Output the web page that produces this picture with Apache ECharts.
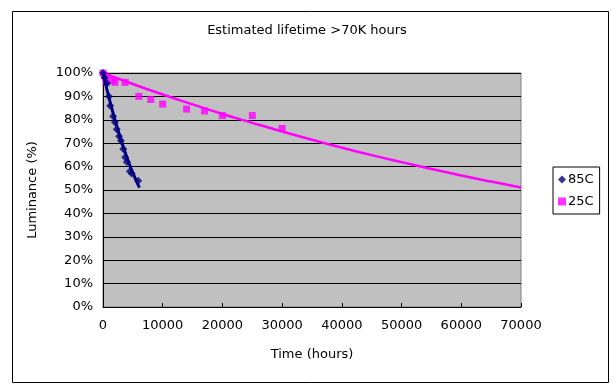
<!DOCTYPE html>
<html>
<head>
<meta charset="utf-8">
<script src="https://cdn.jsdelivr.net/npm/echarts@6/dist/echarts.min.js"></script>
<style>html,body{margin:0;padding:0;background:#fff}#c{width:614px;height:390px}</style>
</head>
<body>
<div id="c"></div>
<script>
var titleText = 'Estimated lifetime >70K hours';
var xName = 'Time (hours)';
var yName = 'Luminance (%)';
var seriesNames = ['85C', '25C'];

// 85C measured points [hours, %]
var hot85Hours = [0, 300, 700, 1000, 1200, 1700, 2000, 2300, 2700, 3000, 3400, 3700, 4000, 4500, 4800, 5900];
var hot85Lum   = [100, 98, 95.5, 90, 86, 81.5, 79, 76, 73, 71, 67.5, 64, 62, 58, 57, 54];
// 85C trend
var hot85TrendHours = [0, 1000, 2000, 3000, 4000, 5000, 6100];
var hot85TrendLum   = [100, 89.5, 80, 71.5, 64, 57.3, 51];

// 25C measured points
var room25Hours = [0, 250, 500, 1500, 2000, 3700, 6000, 8000, 10000, 14000, 17000, 20000, 25000, 30000];
var room25Lum   = [100, 99, 96.5, 97, 96, 96, 90, 88.7, 86.7, 84.6, 83.8, 81.8, 81.8, 76.3];
// 25C trend / extrapolation
var room25TrendHours = [0, 5000, 10000, 15000, 20000, 25000, 30000, 35000, 40000, 45000, 50000, 55000, 60000, 65000, 70000];
var room25TrendLum   = [100, 95.3, 90.8, 86.6, 82.5, 78.7, 75.0, 71.5, 68.1, 64.9, 61.9, 59.0, 56.2, 53.6, 51.1];

function pairs(xs, ys) { return xs.map(function (x, i) { return [x, ys[i]]; }); }

var navy = '#000080';
var pink = '#FF00FF';
var font = 'DejaVu Sans';

var chart = echarts.init(document.getElementById('c'), null, {renderer: 'canvas'});
chart.setOption({
  animation: false,
  backgroundColor: '#fff',
  textStyle: {fontFamily: font},
  title: {
    text: titleText, left: 'center', top: 19,
    textStyle: {fontFamily: font, fontSize: 13, fontWeight: 'normal', color: '#000'}
  },
  legend: {
    data: [
      {name: seriesNames[0], icon: 'diamond'},
      {name: seriesNames[1], icon: 'rect'}
    ],
    orient: 'vertical',
    left: 553, top: 167,
    width: 48,
    padding: [6, 6, 6, 5],
    itemWidth: 8, itemHeight: 8, itemGap: 9,
    borderColor: '#000', borderWidth: 1, backgroundColor: '#fff',
    textStyle: {fontFamily: font, fontSize: 13, color: '#000', padding: [0, 0, 0, -3]}
  },
  grid: {left: 103, right: 93, top: 73, bottom: 83, show: true, backgroundColor: '#C0C0C0', borderColor: '#808080', borderWidth: 1},
  xAxis: {
    type: 'value', min: 0, max: 70000, interval: 10000,
    name: xName, nameLocation: 'middle', nameGap: 41,
    nameTextStyle: {fontFamily: font, fontSize: 13, color: '#000'},
    axisLine: {show: true, lineStyle: {color: '#000', width: 1}},
    axisTick: {show: true, inside: true, length: 4, lineStyle: {color: '#000'}},
    axisLabel: {fontFamily: font, fontSize: 13, color: '#000', margin: 12, formatter: function (v) { return String(v); }},
    splitLine: {show: false}
  },
  yAxis: {
    type: 'value', min: 0, max: 100, interval: 10,
    name: yName, nameLocation: 'middle', nameGap: 64, nameRotate: 90,
    nameTextStyle: {fontFamily: font, fontSize: 13, color: '#000'},
    axisLine: {show: true, lineStyle: {color: '#000', width: 1}},
    axisTick: {show: false},
    axisLabel: {fontFamily: font, fontSize: 13, color: '#000', margin: 10, formatter: '{value}%'},
    splitLine: {show: true, lineStyle: {color: '#000', width: 1}}
  },
  graphic: [{
    type: 'rect', left: 10, top: 9, silent: true, z: -1,
    shape: {width: 596, height: 371},
    style: {fill: 'none', stroke: '#000', lineWidth: 1}
  }],
  series: [
    {
      name: '25C trend', type: 'line', data: pairs(room25TrendHours, room25TrendLum),
      showSymbol: false, symbol: 'none', smooth: true,
      lineStyle: {color: pink, width: 2.5}, z: 2
    },
    {
      name: seriesNames[1], type: 'scatter', data: pairs(room25Hours, room25Lum),
      symbol: 'rect', symbolSize: 7, itemStyle: {color: pink}, z: 3
    },
    {
      name: '85C trend', type: 'line', data: pairs(hot85TrendHours, hot85TrendLum),
      showSymbol: false, symbol: 'none', smooth: true,
      lineStyle: {color: navy, width: 3}, z: 4
    },
    {
      name: seriesNames[0], type: 'scatter', data: pairs(hot85Hours, hot85Lum),
      symbol: 'diamond', symbolSize: 8, itemStyle: {color: navy}, z: 5
    }
  ]
});
</script>
</body>
</html>
